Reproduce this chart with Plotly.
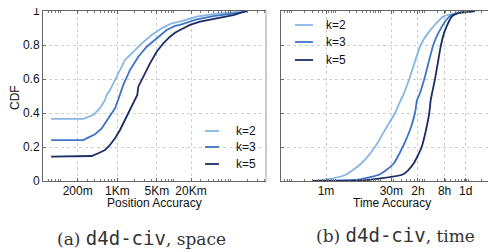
import plotly.graph_objects as go

# the page body has an 8px default margin, so the figure is 8px smaller on each axis
OFF = 8
W, H = 496 - OFF, 252 - OFF

series_names = ["k=2", "k=3", "k=5"]
colors = ["#86b6e2", "#3f75c5", "#1c2c66"]

# ---- Panel (a): position accuracy (metres) ----
pos_k2_x = [68, 251, 377, 495, 607, 650, 743, 911, 1116, 1367, 1917, 2697, 4048, 6080, 9126, 12788, 25220, 49500, 146560, 200000]
pos_k2_y = [0.365, 0.365, 0.388, 0.428, 0.476, 0.506, 0.535, 0.594, 0.653, 0.712, 0.76, 0.81, 0.859, 0.898, 0.928, 0.937, 0.967, 0.982, 0.996, 1.0]

pos_k3_x = [68, 251, 288, 404, 531, 743, 911, 1030, 1116, 1276, 1676, 2348, 3304, 4960, 7448, 10440, 12788, 25220, 49500, 146560, 200000]
pos_k3_y = [0.241, 0.241, 0.251, 0.275, 0.31, 0.388, 0.428, 0.476, 0.506, 0.565, 0.653, 0.731, 0.79, 0.839, 0.888, 0.912, 0.918, 0.951, 0.97, 0.99, 1.0]

pos_k5_x = [68, 353, 462, 607, 743, 911, 1116, 1367, 1676, 1980, 2255, 2348, 2878, 3778, 4960, 6486, 8518, 10440, 12788, 19200, 28840, 56860, 111600, 192400]
pos_k5_y = [0.143, 0.147, 0.163, 0.182, 0.212, 0.251, 0.3, 0.359, 0.418, 0.476, 0.506, 0.555, 0.614, 0.692, 0.76, 0.81, 0.849, 0.872, 0.888, 0.918, 0.937, 0.957, 0.976, 1.0]

pos_tickvals = [200, 1000, 5000, 20000]
pos_ticktext = ["200m", "1Km", "5Km", "20Km"]

# ---- Panel (b): time accuracy (seconds) ----
time_k2_x = [29, 60, 124, 176, 365, 769, 1295, 2179, 2932, 3357, 4585, 8304, 12145, 26928, 64236, 140280]
time_k2_y = [0.0, 0.008, 0.025, 0.04, 0.1, 0.2, 0.3, 0.4, 0.476, 0.506, 0.6, 0.8, 0.87, 0.967, 0.99, 1.0]

time_k3_x = [29, 124, 352, 998, 1994, 3253, 4756, 6171, 6847, 7722, 10020, 16002, 20754, 36804, 64236, 140280]
time_k3_y = [0.0, 0.003, 0.01, 0.04, 0.1, 0.2, 0.3, 0.4, 0.476, 0.506, 0.6, 0.8, 0.87, 0.967, 0.99, 1.0]

time_k5_x = [29, 352, 693, 3357, 5648, 8747, 10945, 12994, 13973, 14718, 17478, 23891, 27930, 32148, 41700, 64236, 140280]
time_k5_y = [0.0, 0.002, 0.01, 0.04, 0.1, 0.2, 0.3, 0.4, 0.476, 0.506, 0.6, 0.8, 0.87, 0.91, 0.967, 0.99, 1.0]

time_tickvals = [60, 1800, 7200, 28800, 86400]
time_ticktext = ["1m", "30m", "2h", "8h", "1d"]

y_tickvals = [0, 0.2, 0.4, 0.6, 0.8, 1]
y_ticktext = ["0", "0.2", "0.4", "0.6", "0.8", "1"]


def px(x):
    return (x - OFF) / W


def py(y):
    return 1 - (y - OFF) / H


fig = go.Figure()

pos_series = [(pos_k2_x, pos_k2_y), (pos_k3_x, pos_k3_y), (pos_k5_x, pos_k5_y)]
time_series = [(time_k2_x, time_k2_y), (time_k3_x, time_k3_y), (time_k5_x, time_k5_y)]

for (xs, ys), c, n in zip(pos_series, colors, series_names):
    fig.add_trace(go.Scatter(x=xs, y=ys, mode="lines", name=n, line=dict(color=c, width=1.8),
                             xaxis="x", yaxis="y", showlegend=False))
for (xs, ys), c, n in zip(time_series, colors, series_names):
    fig.add_trace(go.Scatter(x=xs, y=ys, mode="lines", name=n, line=dict(color=c, width=1.8, shape="spline", smoothing=0.6),
                             xaxis="x2", yaxis="y2", showlegend=False))

minor_vals = [m * 10 ** e for e in range(0, 7) for m in range(1, 10)]

axis_font = dict(family="Liberation Sans, Arial, sans-serif", size=12, color="#111")
common_x = dict(type="log", showline=True, linecolor="#666", linewidth=1, mirror="allticks",
                ticks="inside", ticklen=3, tickcolor="#666", showgrid=True, gridcolor="#cfcfcf",
                griddash="dot", gridwidth=1, tickfont=axis_font, zeroline=False, automargin=False,
                ticklabeloverflow="allow", ticklabelstandoff=-1,
                minor=dict(tickmode="array", tickvals=minor_vals, ticks="inside", ticklen=2,
                           tickcolor="#777", showgrid=False))
common_y = dict(range=[0, 1], tickmode="array", tickvals=y_tickvals, ticktext=y_ticktext,
                showline=True, linecolor="#666", linewidth=1, ticks="inside", ticklen=3,
                tickcolor="#666", showgrid=True, gridcolor="#cfcfcf", griddash="dot", gridwidth=1,
                tickfont=axis_font, zeroline=False, automargin=False, ticklabeloverflow="allow")

x0a, x1a = 43, 266
x0b, x1b = 281, 496
ytop, ybot = 11, 181

fig.update_layout(
    width=W, height=H, margin=dict(l=0, r=0, t=0, b=0, autoexpand=False),
    paper_bgcolor="white", plot_bgcolor="white", showlegend=False,
    xaxis=dict(common_x, domain=[px(x0a), px(x1a)], range=[1.6885, 5.625], tickmode="array",
               tickvals=pos_tickvals, ticktext=pos_ticktext, anchor="y"),
    yaxis=dict(common_y, domain=[py(ybot), py(ytop)], anchor="x", showticklabels=True),
    xaxis2=dict(common_x, domain=[px(x0b), px(x1b)], range=[0.7608, 5.622], tickmode="array",
                tickvals=time_tickvals, ticktext=time_ticktext, anchor="y2"),
    yaxis2=dict(common_y, domain=[py(ybot), py(ytop)], anchor="x2", showticklabels=False),
)

# right border of panel (a)
fig.add_shape(type="line", xref="x domain", yref="y domain", x0=1, x1=1, y0=0, y1=1,
              line=dict(color="#9a9a9a", width=1))

ann = []
# axis titles
ann.append(dict(text="Position Accuracy", x=px(154), y=py(203), xref="paper", yref="paper",
                showarrow=False, font=axis_font, xanchor="center", yanchor="middle"))
ann.append(dict(text="Time Accuracy", x=px(392), y=py(203), xref="paper", yref="paper",
                showarrow=False, font=axis_font, xanchor="center", yanchor="middle"))
ann.append(dict(text="CDF", x=px(15), y=py(98), xref="paper", yref="paper", textangle=-90,
                showarrow=False, font=axis_font, xanchor="center", yanchor="middle"))
# subtitles
mono = '<span style="font-family:\'DejaVu Sans Mono\', monospace; font-size:19px">d4d-civ</span>'
sub_font = dict(family="DejaVu Serif, serif", size=17, color="#333")
ann.append(dict(text="(a) " + mono + ", space", x=px(141), y=py(238), xref="paper", yref="paper",
                showarrow=False, font=sub_font, xanchor="center", yanchor="middle"))
ann.append(dict(text="(b) " + mono + ", time", x=px(395), y=py(235), xref="paper", yref="paper",
                showarrow=False, font=sub_font, xanchor="center", yanchor="middle"))

# manual legends
leg_a_y = [131, 147, 164]
leg_b_y = [25, 42, 60]
for n, c, ya, yb in zip(series_names, colors, leg_a_y, leg_b_y):
    fig.add_shape(type="line", xref="paper", yref="paper", x0=px(205), x1=px(219), y0=py(ya), y1=py(ya),
                  line=dict(color=c, width=1.8))
    ann.append(dict(text=n, x=px(234), y=py(ya), xref="paper", yref="paper", showarrow=False,
                    font=axis_font, xanchor="left", yanchor="middle"))
    fig.add_shape(type="line", xref="paper", yref="paper", x0=px(295), x1=px(313), y0=py(yb), y1=py(yb),
                  line=dict(color=c, width=1.8))
    ann.append(dict(text=n, x=px(324), y=py(yb), xref="paper", yref="paper", showarrow=False,
                    font=axis_font, xanchor="left", yanchor="middle"))

fig.update_layout(annotations=ann)
fig.write_html("out.html")
